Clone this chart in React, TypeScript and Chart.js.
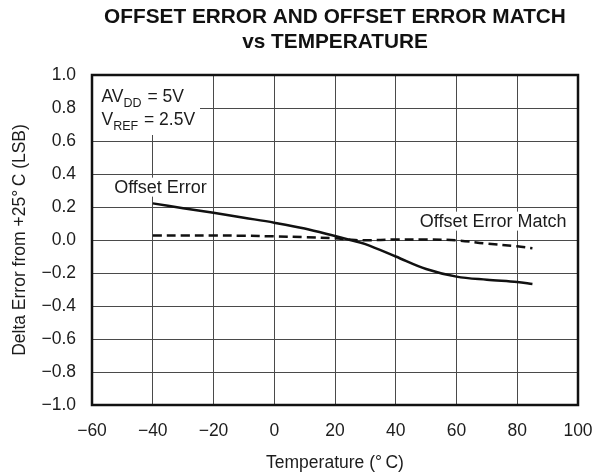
import { useEffect, useRef } from 'react';
import { Chart, registerables } from 'chart.js';

Chart.register(...registerables);

const FONT = '"Liberation Sans", Arial, Helvetica, sans-serif';
const TEXT = '#1c1c1c';

const titleLines = ['OFFSET ERROR AND OFFSET ERROR MATCH', 'vs TEMPERATURE'];
const xTitle = 'Temperature (°\u2009C)';
const yTitle = 'Delta Error from +25°\u2009C (LSB)';

const temperatures = [-40, -30, -20, -10, 0, 10, 20, 25, 30, 40, 50, 60, 70, 80, 85];
const offsetError = [0.222, 0.193, 0.165, 0.135, 0.105, 0.07, 0.024, 0.0, -0.025, -0.1, -0.176, -0.222, -0.241, -0.255, -0.267];
const offsetErrorMatch = [0.027, 0.027, 0.027, 0.026, 0.022, 0.017, 0.01, 0.002, -0.002, 0.003, 0.003, -0.002, -0.022, -0.038, -0.05];

const xMin = -60;
const xMax = 100;
const xStep = 20;
const yMin = -1;
const yMax = 1;
const yStep = 0.2;

const offsetErrorLabel = 'Offset Error';
const offsetErrorLabelAt = { x: -52.7, y: 0.287 };
const matchLabel = 'Offset Error Match';
const matchLabelAt = { x: 47.9, y: 0.081 };

const fmt = (v: number, digits: number) => {
  const s = Math.abs(v) < 1e-9 ? (0).toFixed(digits) : v.toFixed(digits);
  return s.replace('-', '\u2212');
};

const overlayPlugin = {
  id: 'overlay',
  beforeDatasetsDraw(chart: any) {
    const { ctx, chartArea: a, scales } = chart;
    ctx.save();
    ctx.fillStyle = '#ffffff';
    // condition box
    ctx.fillRect(a.left, a.top, 108, 60);
    ctx.font = `18px ${FONT}`;
    const labels = [
      { text: offsetErrorLabel, at: offsetErrorLabelAt },
      { text: matchLabel, at: matchLabelAt },
    ];
    labels.forEach((l) => {
      const x = scales.x.getPixelForValue(l.at.x);
      const y = scales.y.getPixelForValue(l.at.y);
      const w = ctx.measureText(l.text).width;
      ctx.fillStyle = '#ffffff';
      ctx.fillRect(x - 3, y - 15, w + 6, 19);
      ctx.fillStyle = TEXT;
      ctx.textBaseline = 'alphabetic';
      ctx.textAlign = 'left';
      ctx.fillText(l.text, x, y);
    });

    // condition text with subscripts
    const drawSub = (x: number, y: number, main: string, sub: string, rest: string, subDrop: number) => {
      ctx.font = `17.5px ${FONT}`;
      ctx.fillText(main, x, y);
      x += ctx.measureText(main).width;
      ctx.font = `12.5px ${FONT}`;
      ctx.fillText(sub, x, y + subDrop);
      x += ctx.measureText(sub).width;
      ctx.font = `17.5px ${FONT}`;
      ctx.fillText(rest, x + 1, y);
    };
    ctx.fillStyle = TEXT;
    drawSub(a.left + 9.5, a.top + 27.3, 'AV', 'DD', ' = 5V', 4.5);
    drawSub(a.left + 9.5, a.top + 50, 'V', 'REF', ' = 2.5V', 5);
    ctx.restore();
  },
  afterDraw(chart: any) {
    const { ctx, chartArea: a } = chart;
    ctx.save();
    // frame
    ctx.strokeStyle = '#111';
    ctx.lineWidth = 2.5;
    ctx.strokeRect(a.left, a.top, a.right - a.left, a.bottom - a.top);
    // title
    ctx.fillStyle = '#111';
    ctx.textAlign = 'center';
    ctx.textBaseline = 'alphabetic';
    ctx.font = `bold 20.8px ${FONT}`;
    const cx = (a.left + a.right) / 2;
    ctx.fillText(titleLines[0], cx, 23);
    ctx.fillText(titleLines[1], cx, 48);
    // x title
    ctx.fillStyle = TEXT;
    ctx.font = `17.5px ${FONT}`;
    ctx.fillText(xTitle, cx, 468);
    // y title
    ctx.translate(25, (a.top + a.bottom) / 2);
    ctx.rotate(-Math.PI / 2);
    ctx.fillText(yTitle, 0, 0);
    ctx.restore();
  },
};

export default function App() {
  const ref = useRef<HTMLCanvasElement | null>(null);
  useEffect(() => {
    if (!ref.current) return;
    const chart = new Chart(ref.current, {
      type: 'line',
      data: {
        datasets: [
          {
            label: offsetErrorLabel,
            data: temperatures.map((t, i) => ({ x: t, y: offsetError[i] })),
            borderColor: '#111',
            borderWidth: 2.5,
            pointRadius: 0,
            tension: 0.35,
            fill: false,
          },
          {
            label: matchLabel,
            data: temperatures.map((t, i) => ({ x: t, y: offsetErrorMatch[i] })),
            borderColor: '#111',
            borderWidth: 2.5,
            borderDash: [9, 5],
            pointRadius: 0,
            tension: 0.35,
            fill: false,
          },
        ],
      },
      options: {
        animation: false,
        responsive: false,
        devicePixelRatio: 1,
        layout: { padding: { top: 75, right: 17, left: 0, bottom: 0 } },
        plugins: { legend: { display: false }, title: { display: false }, tooltip: { enabled: false } },
        scales: {
          x: {
            type: 'linear',
            min: xMin,
            max: xMax,
            afterFit: (s: any) => { s.height = 71; s.paddingLeft = 0; s.paddingRight = 0; },
            border: { display: false },
            grid: { color: '#4a4a4a', lineWidth: 1, drawTicks: false },
            ticks: {
              stepSize: xStep,
              padding: 16,
              color: TEXT,
              font: { family: FONT, size: 17.5 },
              maxRotation: 0,
              callback: (v: any) => fmt(Number(v), 0),
            },
          },
          y: {
            type: 'linear',
            min: yMin,
            max: yMax,
            afterFit: (s: any) => { s.width = 92; s.paddingTop = 0; s.paddingBottom = 0; },
            border: { display: false },
            grid: { color: '#4a4a4a', lineWidth: 1, drawTicks: false },
            ticks: {
              stepSize: yStep,
              padding: 16,
              color: TEXT,
              font: { family: FONT, size: 17.5 },
              callback: (v: any) => fmt(Number(v), 1),
            },
          },
        },
      },
      plugins: [overlayPlugin],
    });
    return () => chart.destroy();
  }, []);
  return (
    <div style={{ position: 'absolute', left: 0, top: 0, width: 595, height: 476, background: '#fff' }}>
      <canvas ref={ref} width={595} height={476} style={{ display: 'block', width: 595, height: 476 }} />
    </div>
  );
}
